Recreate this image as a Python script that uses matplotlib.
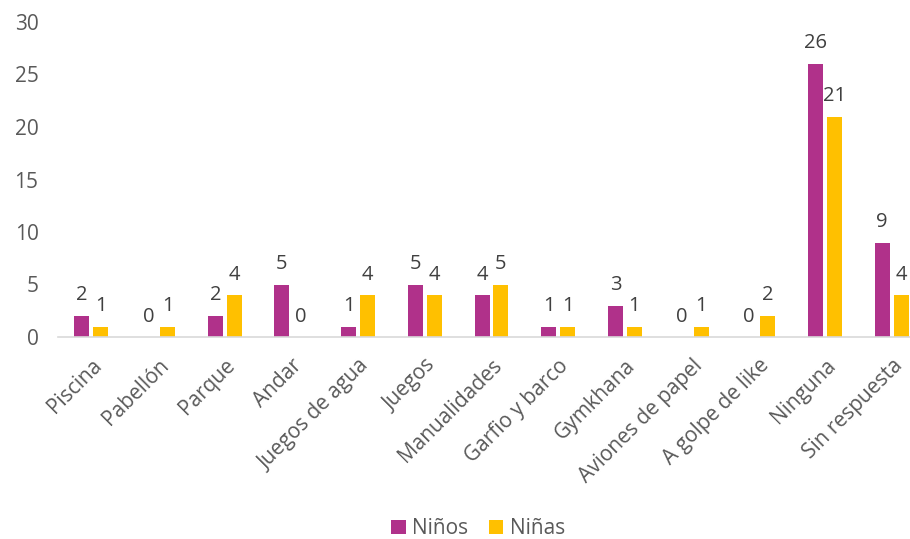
import matplotlib.pyplot as plt
import numpy as np

categorias = ["Piscina", "Pabellón", "Parque", "Andar", "Juegos de agua", "Juegos",
              "Manualidades", "Garfio y barco", "Gymkhana", "Aviones de papel",
              "A golpe de like", "Ninguna", "Sin respuesta"]
ninos = [2, 0, 2, 5, 1, 5, 4, 1, 3, 0, 0, 26, 9]
ninas = [1, 1, 4, 0, 4, 4, 5, 1, 1, 1, 2, 21, 4]

plt.rcParams['font.family'] = ['Open Sans', 'DejaVu Sans']
gris = "#595959"

fig = plt.figure(figsize=(9.1, 5.39), dpi=100)
ax = fig.add_axes([58/910, 202/539, 867/910, 315/539])

x = np.arange(len(categorias))
w = 0.225
off = 0.142
b1 = ax.bar(x - off, ninos, w, color="#B0318A", label="Niños")
b2 = ax.bar(x + off, ninas, w, color="#FFC000", label="Niñas")

for bars, vals in ((b1, ninos), (b2, ninas)):
    for b, v in zip(bars, vals):
        ax.text(b.get_x() + b.get_width()/2, v + 1.0, str(v), ha="center", va="bottom",
                fontsize=14.5, color="#404040")

ax.set_xlim(-0.5, len(categorias) - 0.5)
ax.set_ylim(0, 30)
ax.set_yticks(range(0, 31, 5))
ax.set_xticks(x)
ax.set_xticklabels(categorias, rotation=45, ha="right", rotation_mode="anchor")
ax.tick_params(axis="both", length=0, labelsize=15, colors=gris)
ax.tick_params(axis="y", pad=14)
ax.tick_params(axis="x", pad=13)
for s in ("top", "right", "left"):
    ax.spines[s].set_visible(False)
ax.spines["bottom"].set_color("#D9D9D9")
ax.spines["bottom"].set_linewidth(1.2)

fig.legend(loc="lower center", bbox_to_anchor=(478/910, -0.035), ncol=2, frameon=False,
           fontsize=15, labelcolor=gris, handlelength=0.7, handleheight=0.7,
           handletextpad=0.3, columnspacing=1.0)

fig.savefig("out.png", dpi=100)
